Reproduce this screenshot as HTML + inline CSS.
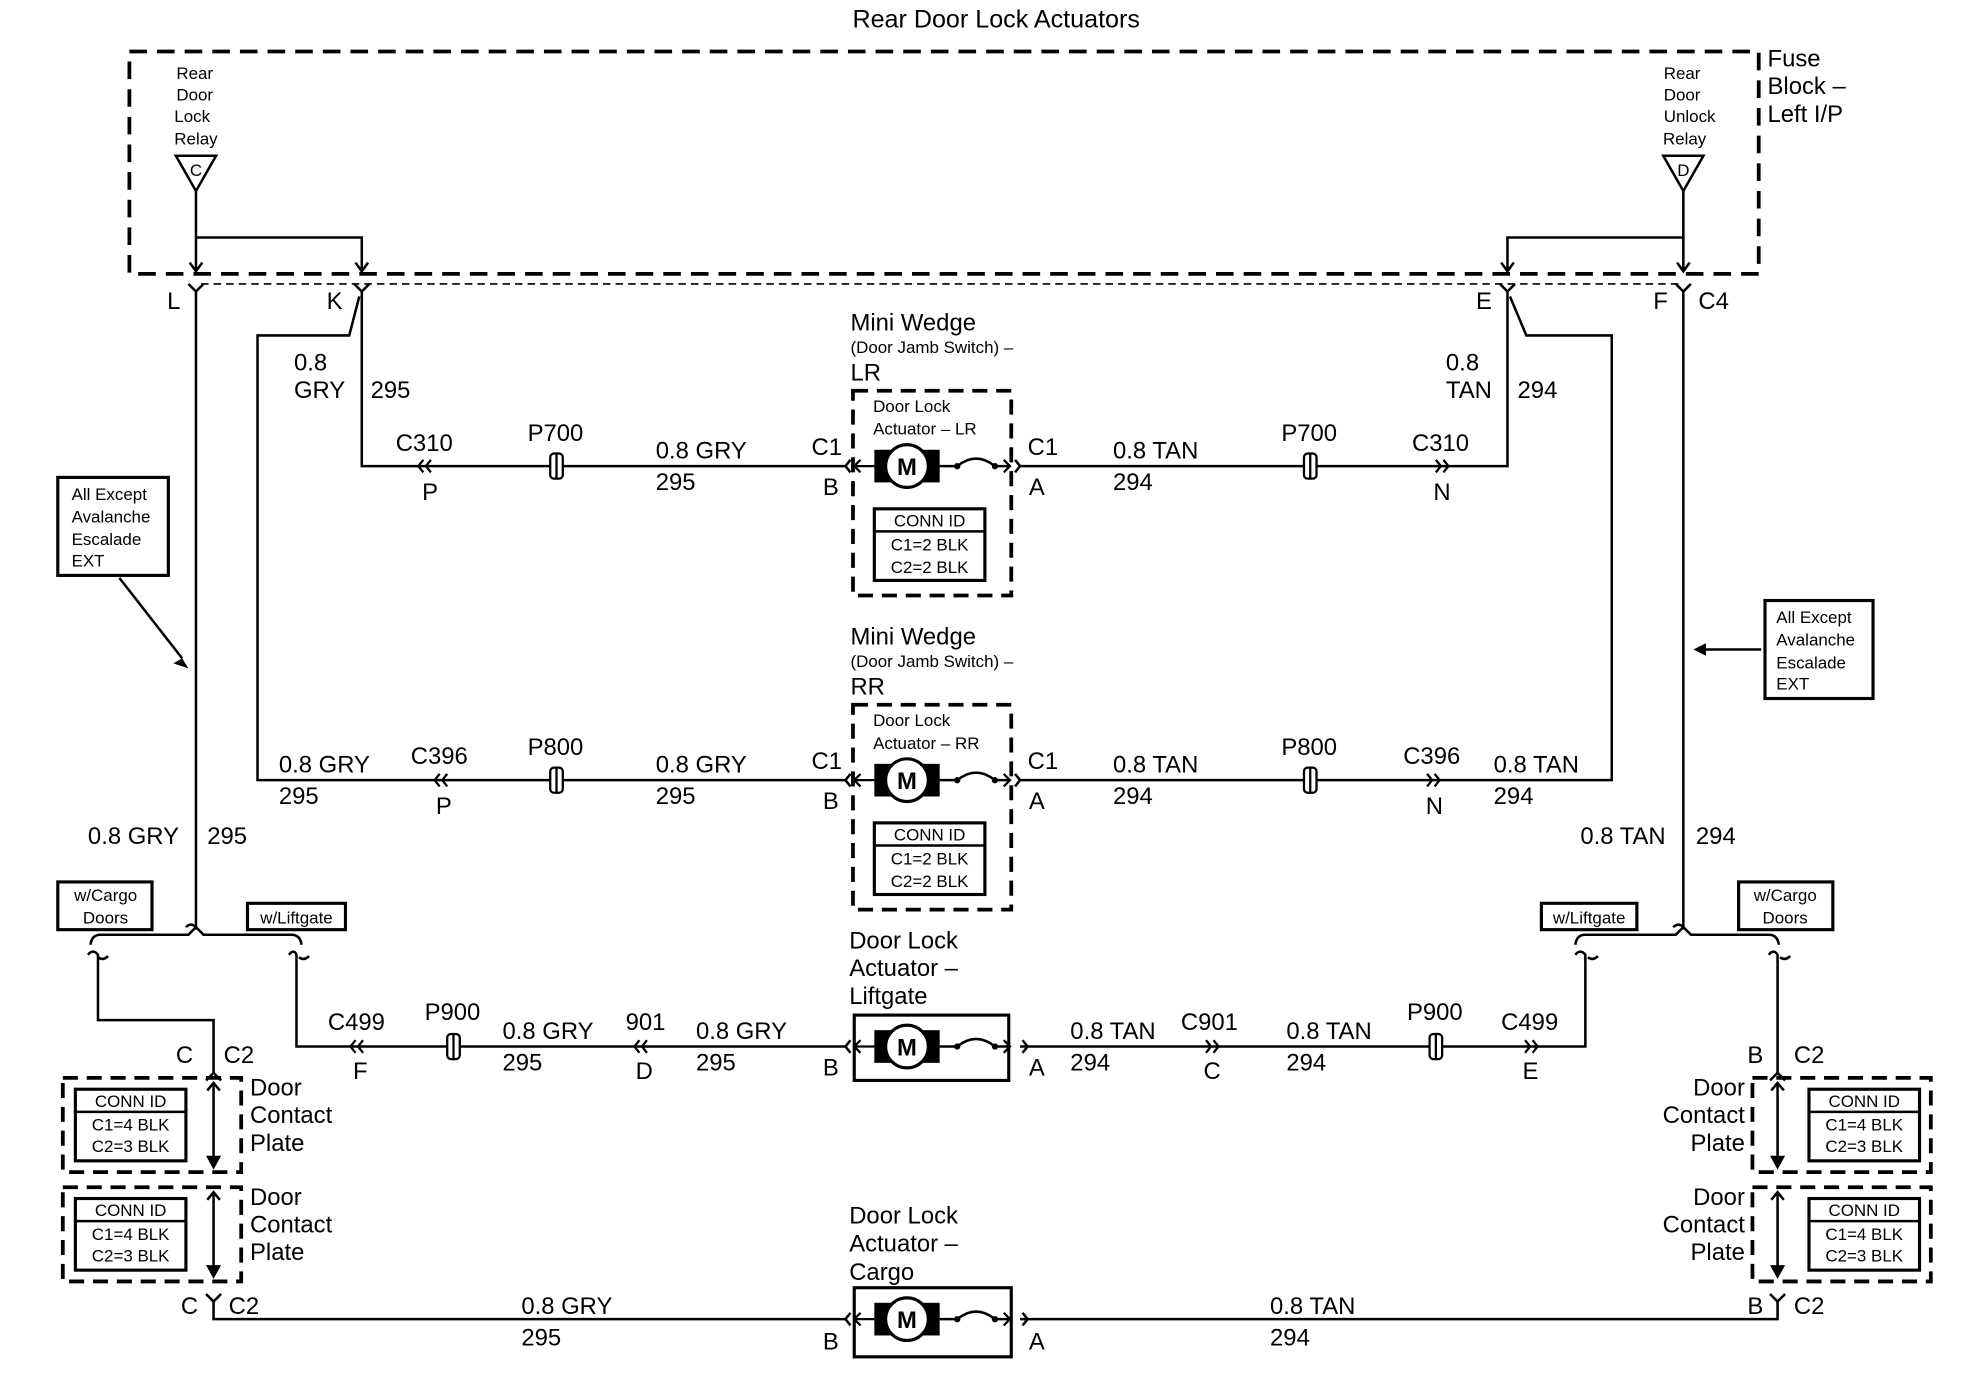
<!DOCTYPE html>
<html><head><meta charset="utf-8"><style>
html,body{margin:0;padding:0;background:#fff;}
svg{display:block;}
text{font-family:"Liberation Sans",Arial,sans-serif;fill:#000;}
.l{font-size:19px;}
.s{font-size:13.5px;}
.t{font-size:20px;}
</style></head><body>
<svg width="1966" height="1392" viewBox="0 0 1565 1108" preserveAspectRatio="none" xmlns="http://www.w3.org/2000/svg">
<defs>
<g id="ll"><path d="M4,-5 L0,0 L4,5 M10,-5 L6,0 L10,5" fill="none" stroke="#000" stroke-width="1.8"/></g>
<g id="rr"><path d="M-4,-5 L0,0 L-4,5 M-10,-5 L-6,0 L-10,5" fill="none" stroke="#000" stroke-width="1.8"/></g>
<g id="ic"><rect x="-5" y="-10" width="10" height="20" rx="3" fill="#fff" stroke="#000" stroke-width="1.8"/><line x1="0" y1="-10" x2="0" y2="10" stroke="#000" stroke-width="1.8"/></g>
<g id="mot">
<rect x="-26" y="-13" width="52" height="26" fill="#000"/>
<circle r="17" fill="#fff" stroke="#000" stroke-width="2.5"/>
<text x="0" y="7" text-anchor="middle" style="font-size:19px;font-weight:bold">M</text>
<path d="M26,0 L40,0 Q55,-12 70,0 L82,0" fill="none" stroke="#000" stroke-width="2"/>
<circle cx="40" cy="0" r="2.5"/><circle cx="70" cy="0" r="2.5"/>
<path d="M77,-5 L82,0 L77,5" fill="none" stroke="#000" stroke-width="1.8"/>
<path d="M-42,0 L-26,0 M-37,-5 L-42,0 L-37,5" fill="none" stroke="#000" stroke-width="1.8"/>
</g>
<g id="conn">
<rect x="0" y="0" width="88" height="57" fill="#fff" stroke="#000" stroke-width="2.5"/>
<line x1="0" y1="18" x2="88" y2="18" stroke="#000" stroke-width="2"/>
<text x="44" y="14" text-anchor="middle" class="s">CONN ID</text>
</g>
</defs>

<g stroke="#000" stroke-width="2" fill="none">
<rect x="103" y="41" width="1297" height="177" stroke-width="3" stroke-dasharray="14,8"/>
<line x1="160" y1="226" x2="1338" y2="226" stroke-width="1.3" stroke-dasharray="6,4"/>
<path d="M140,124 L172,124 L156,152 Z"/>
<path d="M1324,124 L1356,124 L1340,152 Z"/>
<path d="M156,152 V216 M156,189 H288 V216 M151,209 L156,216 L161,209 M283,209 L288,216 L293,209"/>
<path d="M1340,152 V216 M1340,189 H1200 V216 M1335,209 L1340,216 L1345,209 M1195,209 L1200,216 L1205,209"/>
<path d="M150,226 L156,232 L162,226 M282,226 L288,232 L294,226 M1194,226 L1200,232 L1206,226 M1334,226 L1340,232 L1346,226"/>
<path d="M156,232 V738"/>
<path d="M1340,232 V738"/>
<path d="M288,232 V371 H673"/>
<path d="M286,236 L278,267 H205 V621 H673"/>
<path d="M1200,232 V371 H812"/>
<path d="M1202,236 L1215,267 H1283 V621 H812"/>
<path d="M148,738 Q152,734 156,738 V740"/>
<path d="M72,752 Q73,744 80,744 H150 L156,738 L162,744 H232 Q239,744 240,752"/>
<path d="M70,760 Q74,755 78,760 V812 H170 V855 M78,762 Q82,765 86,761"/>
<path d="M230,760 Q234,755 236,760 V833 H673 M238,762 Q242,765 246,761"/>
<path d="M164,860 L170,854 L176,860"/>
<path d="M1332,738 Q1336,734 1340,738 V740"/>
<path d="M1254,752 Q1255,744 1262,744 H1334 L1340,738 L1346,744 H1408 Q1415,744 1416,752"/>
<path d="M1254,760 Q1258,755 1262,760 V833 H812 M1264,762 Q1268,765 1272,761"/>
<path d="M1408,760 Q1412,755 1415,760 V855 M1417,762 Q1421,765 1425,761"/>
<path d="M1409,860 L1415,854 L1421,860"/>
<path d="M170,1036 V1050 H673 M164,1030 L170,1036 L176,1030"/>
<path d="M1415,1036 V1050 H812 M1409,1030 L1415,1036 L1421,1030"/>
<path d="M677,366 L673,371 L677,376 M808,366 L812,371 L808,376"/>
<path d="M677,616 L673,621 L677,626 M808,616 L812,621 L808,626"/>
<path d="M677,828 L673,833 L677,838 M814,828 L818,833 L814,838"/>
<path d="M677,1045 L673,1050 L677,1055 M814,1045 L818,1050 L814,1055"/>
<rect x="46" y="380" width="88" height="78" stroke-width="2.5"/>
<path d="M95,460 L145,524"/>
<rect x="1405" y="478" width="86" height="78" stroke-width="2.5"/>
<path d="M1402,517 H1356"/>
<rect x="46" y="702" width="75" height="38" stroke-width="2.5"/>
<rect x="197" y="719" width="78" height="21" stroke-width="2.5"/>
<rect x="1227" y="719" width="76" height="21" stroke-width="2.5"/>
<rect x="1384" y="702" width="75" height="38" stroke-width="2.5"/>
<rect x="679" y="311" width="126" height="163" stroke-width="3" stroke-dasharray="12,7"/>
<rect x="679" y="561" width="126" height="163" stroke-width="3" stroke-dasharray="12,7"/>
<rect x="680" y="808" width="123" height="52" stroke-width="2.5"/>
<rect x="680" y="1025" width="125" height="55" stroke-width="2.5"/>
<rect x="50" y="858" width="142" height="75" stroke-width="3" stroke-dasharray="12,7"/>
<rect x="50" y="945" width="142" height="75" stroke-width="3" stroke-dasharray="12,7"/>
<rect x="1395" y="858" width="142" height="75" stroke-width="3" stroke-dasharray="12,7"/>
<rect x="1395" y="945" width="142" height="75" stroke-width="3" stroke-dasharray="12,7"/>
<path d="M170,862 V928 M165,868 L170,862 L175,868 M170,949 V1015 M165,955 L170,949 L175,955"/>
<path d="M1415,862 V928 M1410,868 L1415,862 L1420,868 M1415,949 V1015 M1410,955 L1415,949 L1420,955"/>
</g>
<g fill="#000">
<path d="M145,524 L150,532 L138,528 Z"/>
<path d="M1348,517 L1358,512 L1358,522 Z"/>
<path d="M164,920 L176,920 L170,931 Z M164,1007 L176,1007 L170,1018 Z M1409,920 L1421,920 L1415,931 Z M1409,1007 L1421,1007 L1415,1018 Z"/>
</g>

<use href="#ll" x="333" y="371"/><use href="#ic" x="443" y="371"/>
<use href="#ic" x="1043" y="371"/><use href="#rr" x="1153" y="371"/>
<use href="#ll" x="346" y="621"/><use href="#ic" x="443" y="621"/>
<use href="#ic" x="1043" y="621"/><use href="#rr" x="1146" y="621"/>
<use href="#ll" x="279" y="833"/><use href="#ic" x="361" y="833"/><use href="#ll" x="505" y="833"/>
<use href="#rr" x="970" y="833"/><use href="#ic" x="1143" y="833"/><use href="#rr" x="1224" y="833"/>
<use href="#mot" x="722" y="371"/><use href="#mot" x="722" y="621"/>
<use href="#mot" x="722" y="833"/><use href="#mot" x="722" y="1050"/>
<use href="#conn" x="696" y="405"/><use href="#conn" x="696" y="655"/>
<use href="#conn" x="60" y="867"/><use href="#conn" x="60" y="954"/>
<use href="#conn" x="1440" y="867"/><use href="#conn" x="1440" y="954"/>

<text x="793" y="22" text-anchor="middle" class="t">Rear Door Lock Actuators</text>
<text x="1407" y="53" class="l">Fuse</text><text x="1407" y="75" class="l">Block –</text><text x="1407" y="97" class="l">Left I/P</text>
<g class="s" text-anchor="middle">
<text x="155" y="63">Rear</text><text x="155" y="80">Door</text><text x="153" y="97">Lock</text><text x="156" y="115">Relay</text>
<text x="1339" y="63">Rear</text><text x="1339" y="80">Door</text><text x="1345" y="97">Unlock</text><text x="1341" y="115">Relay</text>
<text x="156" y="140">C</text><text x="1340" y="140">D</text>
<text x="740" y="438">C1=2 BLK</text><text x="740" y="456">C2=2 BLK</text>
<text x="740" y="688">C1=2 BLK</text><text x="740" y="706">C2=2 BLK</text>
<text x="104" y="900">C1=4 BLK</text><text x="104" y="917">C2=3 BLK</text>
<text x="104" y="987">C1=4 BLK</text><text x="104" y="1004">C2=3 BLK</text>
<text x="1484" y="900">C1=4 BLK</text><text x="1484" y="917">C2=3 BLK</text>
<text x="1484" y="987">C1=4 BLK</text><text x="1484" y="1004">C2=3 BLK</text>
<text x="84" y="735">Doors</text><text x="236" y="735">w/Liftgate</text>
<text x="1265" y="735">w/Liftgate</text><text x="1421" y="735">Doors</text>
</g>
<g class="s">
<text x="57" y="398">All Except</text><text x="57" y="416">Avalanche</text><text x="57" y="434">Escalade</text><text x="57" y="451">EXT</text>
<text x="1414" y="496">All Except</text><text x="1414" y="514">Avalanche</text><text x="1414" y="532">Escalade</text><text x="1414" y="549">EXT</text>
<text x="59" y="717">w/Cargo</text><text x="1396" y="717">w/Cargo</text>
<text x="677" y="281">(Door Jamb Switch) –</text><text x="677" y="531">(Door Jamb Switch) –</text>
<text x="695" y="328">Door Lock</text><text x="695" y="346">Actuator – LR</text>
<text x="695" y="578">Door Lock</text><text x="695" y="596">Actuator – RR</text>
</g>
<g class="l">
<text x="133" y="246">L</text><text x="260" y="246">K</text><text x="1175" y="246">E</text><text x="1316" y="246">F</text><text x="1352" y="246">C4</text>
<text x="677" y="263">Mini Wedge</text><text x="677" y="303">LR</text>
<text x="677" y="513">Mini Wedge</text><text x="677" y="553">RR</text>
<text x="234" y="295">0.8</text><text x="234" y="317">GRY</text><text x="295" y="317">295</text>
<text x="1151" y="295">0.8</text><text x="1151" y="317">TAN</text><text x="1208" y="317">294</text>
<text x="315" y="359">C310</text><text x="336" y="398">P</text><text x="420" y="351">P700</text>
<text x="522" y="365">0.8 GRY</text><text x="522" y="390">295</text><text x="646" y="362">C1</text><text x="655" y="394">B</text>
<text x="818" y="362">C1</text><text x="819" y="394">A</text><text x="886" y="365">0.8 TAN</text><text x="886" y="390">294</text>
<text x="1020" y="351">P700</text><text x="1124" y="359">C310</text><text x="1141" y="398">N</text>
<text x="222" y="615">0.8 GRY</text><text x="222" y="640">295</text><text x="327" y="608">C396</text><text x="347" y="648">P</text><text x="420" y="601">P800</text>
<text x="522" y="615">0.8 GRY</text><text x="522" y="640">295</text><text x="646" y="612">C1</text><text x="655" y="644">B</text>
<text x="818" y="612">C1</text><text x="819" y="644">A</text><text x="886" y="615">0.8 TAN</text><text x="886" y="640">294</text>
<text x="1020" y="601">P800</text><text x="1117" y="608">C396</text><text x="1135" y="648">N</text>
<text x="1189" y="615">0.8 TAN</text><text x="1189" y="640">294</text>
<text x="70" y="672">0.8 GRY</text><text x="165" y="672">295</text>
<text x="1258" y="672">0.8 TAN</text><text x="1350" y="672">294</text>
<text x="676" y="755">Door Lock</text><text x="676" y="777">Actuator –</text><text x="676" y="799">Liftgate</text>
<text x="261" y="820">C499</text><text x="281" y="859">F</text><text x="338" y="812">P900</text>
<text x="400" y="827">0.8 GRY</text><text x="400" y="852">295</text><text x="498" y="820">901</text><text x="506" y="859">D</text>
<text x="554" y="827">0.8 GRY</text><text x="554" y="852">295</text><text x="655" y="856">B</text>
<text x="819" y="856">A</text><text x="852" y="827">0.8 TAN</text><text x="852" y="852">294</text>
<text x="940" y="820">C901</text><text x="958" y="859">C</text>
<text x="1024" y="827">0.8 TAN</text><text x="1024" y="852">294</text><text x="1120" y="812">P900</text>
<text x="1195" y="820">C499</text><text x="1212" y="859">E</text>
<text x="140" y="846">C</text><text x="178" y="846">C2</text>
<text x="199" y="872">Door</text><text x="199" y="894">Contact</text><text x="199" y="916">Plate</text>
<text x="199" y="959">Door</text><text x="199" y="981">Contact</text><text x="199" y="1003">Plate</text>
<text x="144" y="1046">C</text><text x="182" y="1046">C2</text>
<text x="1391" y="846">B</text><text x="1428" y="846">C2</text>
<text x="1389" y="872" text-anchor="end">Door</text><text x="1389" y="894" text-anchor="end">Contact</text><text x="1389" y="916" text-anchor="end">Plate</text>
<text x="1389" y="959" text-anchor="end">Door</text><text x="1389" y="981" text-anchor="end">Contact</text><text x="1389" y="1003" text-anchor="end">Plate</text>
<text x="1391" y="1046">B</text><text x="1428" y="1046">C2</text>
<text x="676" y="974">Door Lock</text><text x="676" y="996">Actuator –</text><text x="676" y="1019">Cargo</text>
<text x="415" y="1046">0.8 GRY</text><text x="415" y="1071">295</text><text x="655" y="1074">B</text>
<text x="819" y="1074">A</text><text x="1011" y="1046">0.8 TAN</text><text x="1011" y="1071">294</text>
</g>
</svg>
</body></html>
